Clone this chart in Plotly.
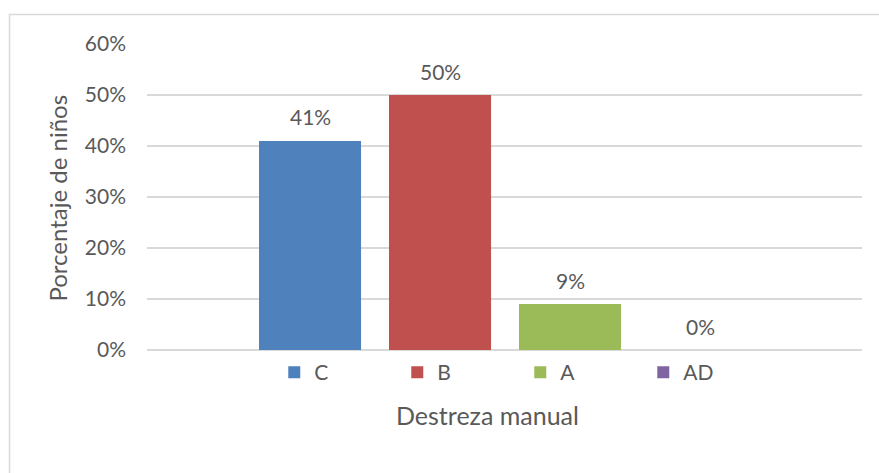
import plotly.graph_objects as go

series = ["C", "B", "A", "AD"]
values = [0.41, 0.50, 0.09, 0.0]
labels = ["41%", "50%", "9%", "0%"]
colors = ["#4F81BD", "#C0504D", "#9BBB59", "#8064A2"]
y_ticks = [0, 0.1, 0.2, 0.3, 0.4, 0.5, 0.6]
x_title = "Destreza manual"
y_title = "Porcentaje de niños"

TXT = "#595959"
FONT = "Lato"

fig = go.Figure()
for s, v, c in zip(series, values, colors):
    fig.add_trace(go.Bar(x=[s], y=[v], name=s, marker=dict(color=c, line=dict(width=0)),
                         hoverinfo="skip"))

for s, v, t in zip(series, values, labels):
    fig.add_annotation(x=s, y=v, xref="x", yref="y", text=t, showarrow=False,
                       yanchor="middle", yshift=24,
                       font=dict(family=FONT, size=21, color=TXT))

fig.add_annotation(x=0.476, y=-0.212, xref="paper", yref="paper", text=x_title,
                   showarrow=False, xanchor="center", yanchor="middle",
                   font=dict(family=FONT, size=25, color=TXT))
fig.add_annotation(x=-0.1245, y=0.498, xref="paper", yref="paper", text=y_title,
                   showarrow=False, textangle=-90, xanchor="center", yanchor="middle",
                   font=dict(family=FONT, size=24, color=TXT))

fig.add_shape(type="rect", xref="paper", yref="paper",
              x0=-0.1923, x1=2, y0=1.0964, y1=-2,
              line=dict(color="#d9d9d9", width=1.5), fillcolor="rgba(0,0,0,0)", layer="below")

fig.update_layout(
    width=879, height=473,
    margin=dict(l=147, r=17, t=44, b=123),
    paper_bgcolor="white", plot_bgcolor="white",
    barmode="group", bargap=0.215,
    showlegend=True,
    legend=dict(orientation="h", x=0.178, xanchor="left", y=-0.007, yanchor="top",
                font=dict(family=FONT, size=21, color=TXT),
                entrywidth=78, entrywidthmode="pixels", itemwidth=30,
                bgcolor="rgba(0,0,0,0)"),
    font=dict(family=FONT, color=TXT),
    xaxis=dict(range=[-1.254, 4.246], showticklabels=False, showgrid=False,
               zeroline=False, showline=False, ticks=""),
    yaxis=dict(range=[0, 0.6], tickvals=y_ticks, tickformat=".0%",
               showgrid=True, gridcolor="#d9d9d9", gridwidth=1.5,
               zeroline=True, zerolinecolor="#d9d9d9", zerolinewidth=1.5,
               showline=False, ticks="", ticklabelstandoff=20,
               tickfont=dict(family=FONT, size=21, color=TXT)),
)

fig.write_html("out.html")
